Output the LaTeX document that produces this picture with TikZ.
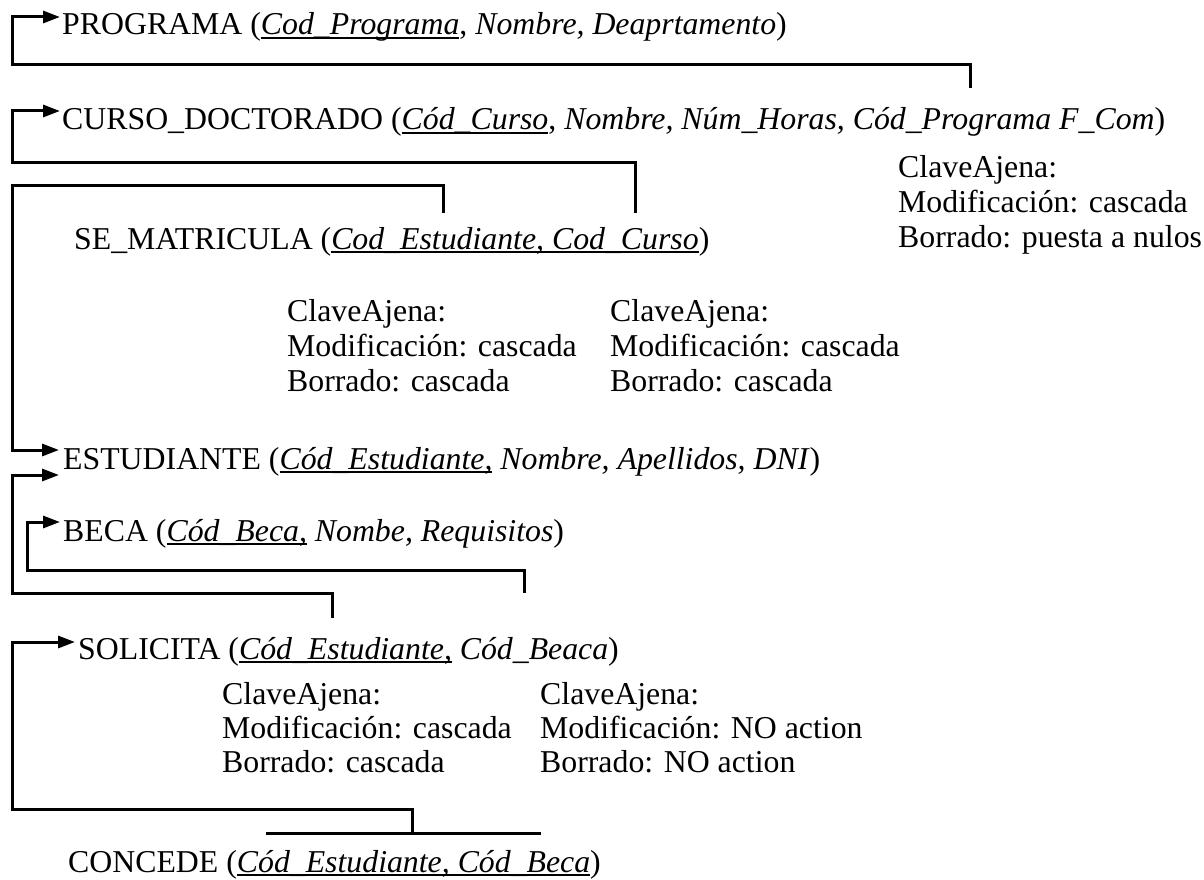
\documentclass[tikz,border=0pt]{standalone}
\usepackage{fontspec}
\setmainfont{Liberation Serif}
\usetikzlibrary{arrows.meta}
% underline for primary keys, drawn just below the baseline
\newcommand\pkey[1]{\setbox0\hbox{#1}\rlap{\rule[-4pt]{\wd0}{2.2pt}}\box0\relax}
\begin{document}
\begin{tikzpicture}[x=1pt,y=-1pt,
  txt/.style={anchor=base west,inner sep=0pt,font=\fontsize{31.8}{35}\selectfont},
  link/.style={line width=3pt},
  fk/.style={line width=3pt,-{Triangle[length=17pt,width=12pt]}}]
\useasboundingbox (0,0) rectangle (1204,880);

% tables
\node[txt] (prog) at (62,35) {PROGRAMA (\pkey{\textit{Cod\_Programa}}, \textit{Nombre, Deaprtamento})};
\node[txt] (curso) at (62,130) {CURSO\_DOCTORADO (\pkey{\textit{Cód\_Curso}}, \textit{Nombre, Núm\_Horas, Cód\_Programa F\_Com})};
\node[txt] (matr) at (74,249) {SE\_MATRICULA (\pkey{\textit{Cod\_Estudiante, Cod\_Curso}})};
\node[txt] (est) at (63,469) {ESTUDIANTE (\pkey{\textit{Cód\_Estudiante,}} \textit{Nombre, Apellidos, DNI})};
\node[txt] (beca) at (63,541) {BECA (\pkey{\textit{Cód\_Beca,}} \textit{Nombe, Requisitos})};
\node[txt] (sol) at (78,659) {SOLICITA (\pkey{\textit{Cód\_Estudiante,}} \textit{Cód\_Beaca})};
\node[txt] (conc) at (68,872) {CONCEDE (\pkey{\textit{Cód\_Estudiante, Cód\_Beca}})};

% referential actions
\node[txt] (ra1a) at (898,177) {ClaveAjena:};
\node[txt] (ra1b) at (898,212) {Modificación: cascada};
\node[txt] (ra1c) at (898,247) {Borrado: puesta a nulos};

\node[txt] (ra2a) at (287,321) {ClaveAjena:};
\node[txt] (ra2b) at (287,356) {Modificación: cascada};
\node[txt] (ra2c) at (287,391) {Borrado: cascada};
\node[txt] (ra3a) at (610,321) {ClaveAjena:};
\node[txt] (ra3b) at (610,356) {Modificación: cascada};
\node[txt] (ra3c) at (610,391) {Borrado: cascada};

\node[txt] (ra4a) at (222,704) {ClaveAjena:};
\node[txt] (ra4b) at (222,738) {Modificación: cascada};
\node[txt] (ra4c) at (222,772) {Borrado: cascada};
\node[txt] (ra5a) at (540,704) {ClaveAjena:};
\node[txt] (ra5b) at (540,738) {Modificación: NO action};
\node[txt] (ra5c) at (540,772) {Borrado: NO action};

% foreign key ends and arrow targets
\coordinate (fkCurso) at (970,88);
\coordinate (inProg) at (60,17);
\coordinate (fkMatrC) at (635,213);
\coordinate (inCurso) at (60,111);
\coordinate (fkMatrE) at (443,213);
\coordinate (inEstA) at (59,450);
\coordinate (fkSolE) at (332,618);
\coordinate (inEstB) at (59,475);
\coordinate (fkSolB) at (524,593);
\coordinate (inBeca) at (60,522);
\coordinate (fkConc) at (412,833);
\coordinate (inSol) at (75,642);
\coordinate (concL) at (266,833);
\coordinate (concR) at (541,833);

% connectors
\draw[fk] (fkCurso) -- (970,65) -- (12,65) -- (12,17) -- (inProg);
\draw[fk] (fkMatrC) -- (635,162) -- (12,162) -- (12,111) -- (inCurso);
\draw[fk] (fkMatrE) -- (443,185) -- (12,185) -- (12,450) -- (inEstA);
\draw[fk] (fkSolE) -- (332,593) -- (12,593) -- (12,475) -- (inEstB);
\draw[fk] (fkSolB) -- (524,570) -- (27,570) -- (27,522) -- (inBeca);
\draw[link] (concL) -- (concR);
\draw[fk] (fkConc) -- (412,809) -- (12,809) -- (12,642) -- (inSol);
\end{tikzpicture}
\end{document}
